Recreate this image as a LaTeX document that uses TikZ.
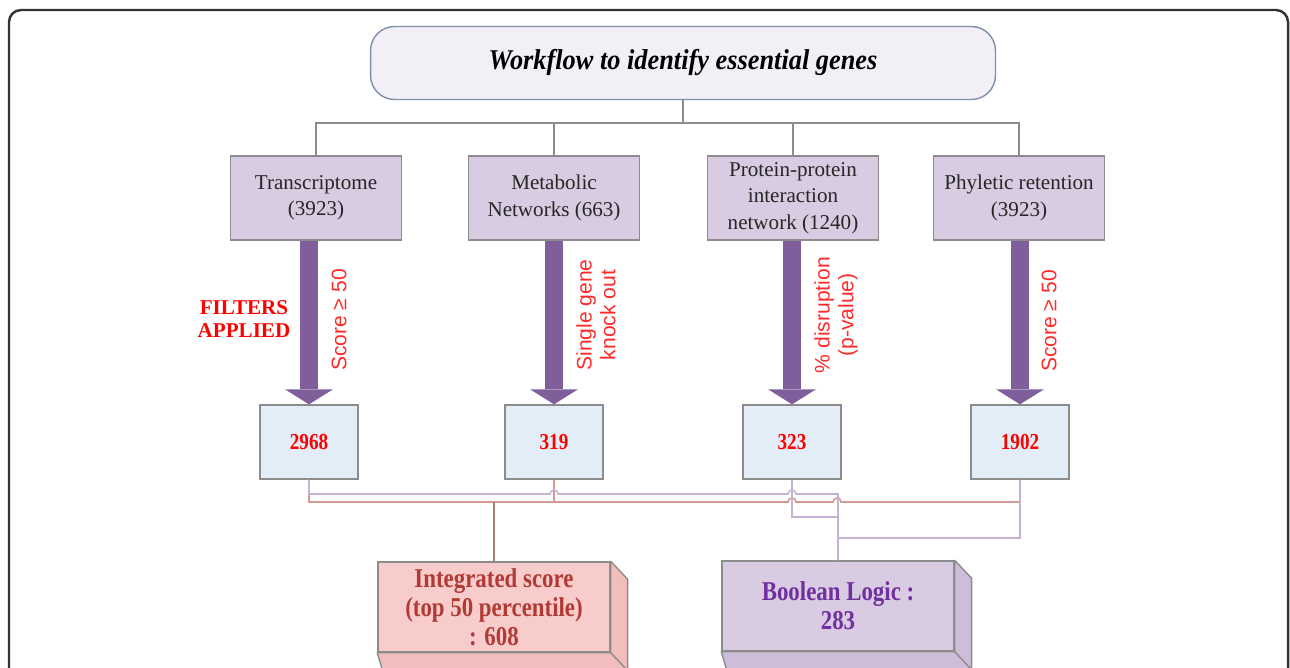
\documentclass[tikz,border=0pt]{standalone}
\usepackage{fontspec}
\setmainfont{Liberation Serif}
\setsansfont{Liberation Sans}
\newfontfamily\narrowserif[FakeStretch = 0.84]{Liberation Serif}
\newfontfamily\headserif[FakeStretch = 0.92]{Liberation Serif}
\usetikzlibrary{arrows.meta}
\usetikzlibrary{calc}

\definecolor{framegrey}{HTML}{333333}
\definecolor{boxgrey}{HTML}{8C8C8C}
\definecolor{titlefill}{HTML}{F3EFF6}
\definecolor{titleedge}{HTML}{7F8FA9}
\definecolor{lilac}{HTML}{D9CBE2}
\definecolor{lilacdark}{HTML}{CDBDD8}
\definecolor{paleblue}{HTML}{E3EDF7}
\definecolor{arrowpurple}{HTML}{7E5E9B}
\definecolor{filterred}{HTML}{FF2A2A}
\definecolor{pinkfill}{HTML}{F9CCCC}
\definecolor{pinkdark}{HTML}{F1BDBD}
\definecolor{scorered}{HTML}{B23A36}
\definecolor{boolpurple}{HTML}{7030A0}
\definecolor{pinkwire}{HTML}{D29A92}
\definecolor{lilacwire}{HTML}{C6B3D3}

\tikzset{
  source/.style = {draw = boxgrey, fill = lilac, line width = 0.8pt,
    minimum width = 3.42 cm, minimum height = 1.68 cm, align = center,
    text = black!85, font = \fontsize{12}{15}\selectfont},
  result/.style = {draw = boxgrey, fill = paleblue, line width = 0.8pt,
    minimum width = 1.96 cm, minimum height = 1.48 cm,
    text = red, font = \narrowserif\bfseries\fontsize{13}{15}\selectfont},
  filter/.style = {text = filterred, rotate = 90, align = center,
    font = \sffamily\fontsize{12}{13.6}\selectfont},
  bigarrow/.style = {arrowpurple, line width = 0.36 cm,
    -{Triangle[width=0.96cm, length=0.3cm, line width=0pt]}},
  slab/.style = {draw = boxgrey, line width = 0.8pt, align = center,
    minimum width = 4.64 cm, minimum height = 1.8 cm,
    font = \narrowserif\bfseries\fontsize{15.5}{16.5}\selectfont},
  tree/.style = {draw = boxgrey, line width = 0.6pt},
}

% side and bottom faces of a slab node
\newcommand\slabfaces[2]{%
  \filldraw[draw = boxgrey, fill = #2, line width = 0.8pt, line join = round]
    (#1.north east) -- ++(17, 18) -- ++(0, 120) -- (#1.south east) -- cycle;
  \filldraw[draw = boxgrey, fill = #2, line width = 0.8pt, line join = round]
    (#1.south west) -- (#1.south east) -- ++(17, 18) -- ++(0, 40)
    -- ($(#1.south west) + (17, 58)$) -- cycle;
}

\begin{document}
\begin{tikzpicture} [x = 0.02 cm, y = -0.02 cm]
    \useasboundingbox (0, 0) rectangle (1290, 667);
    \clip (0, 0) rectangle (1290, 667);

    % frame
    \draw[framegrey, line width = 1.4pt, rounded corners = 0.24 cm]
      (9, 720) -- (9, 10) -- (1288, 10) -- (1288, 720);

    % title
    \node[draw = titleedge, fill = titlefill, line width = 0.8pt,
      rounded corners = 0.48 cm, minimum width = 12.5 cm,
      minimum height = 1.46 cm,
      font = \headserif\bfseries\itshape\fontsize{16.3}{18}\selectfont]
      (wf) at (683, 63) {Workflow to identify essential genes};

    % data sources
    \node[source] (tr) at (316, 198) {Transcriptome\\(3923)};
    \node[source] (mn) at (554, 198) {Metabolic\\Networks (663)};
    \node[source] (pp) at (793, 198)
      {Protein-protein\\interaction\\network (1240)};
    \node[source] (ph) at (1019, 198) {Phyletic retention\\(3923)};

    \foreach \n in {tr, mn, pp, ph}
      \draw[tree] (wf.south) -- (wf.south |- 0, 123) -| (\n.north);

    % filtered gene counts
    \node[result] (tr') at (309, 442) {2968};
    \node[result] (mn') at (554, 442) {319};
    \node[result] (pp') at (792, 442) {323};
    \node[result] (ph') at (1020, 442) {1902};

    \foreach \n in {tr, mn, pp, ph}
      \draw[bigarrow] (\n'.north |- \n.south) -- (\n'.north);

    \node[text = red, align = center,
      font = \bfseries\fontsize{12}{13.6}\selectfont]
      (fa) at (244, 319) {FILTERS\\APPLIED};
    \node[filter] (f1) at (339, 320) {Score ≥ 50};
    \node[filter] (f2) at (596, 315) {Single gene\\knock out};
    \node[filter] (f3) at (836, 315) {\% disruption\\(p-value)};
    \node[filter] (f4) at (1049, 321) {Score ≥ 50};

    % combined scores
    \node[slab, fill = pinkfill, text = scorered] (is) at (494, 607)
      {Integrated score\\(top 50 percentile)\\: 608};
    \slabfaces{is}{pinkdark}
    \node[slab, fill = lilac, text = boolpurple] (bl) at (838, 606)
      {Boolean Logic :\\283};
    \slabfaces{bl}{lilacdark}

    % wiring to integrated score
    \draw[pinkwire, line width = 0.9pt]
      (tr'.south) |- (788, 502) arc (180:0:0.08 cm)
      -- (833, 502) arc (180:0:0.08 cm) -| (ph'.south);
    \draw[pinkwire, line width = 0.9pt] (mn'.south) -- (mn'.south |- 0, 502);
    \draw[pinkwire!80!black, line width = 0.9pt]
      (is.north) -- (is.north |- 0, 502);

    % wiring to boolean logic
    \draw[lilacwire, line width = 0.9pt]
      (tr'.south) |- (550, 494) arc (180:0:0.08 cm)
      -- (788, 494) arc (180:0:0.08 cm) -| (bl.north);
    \draw[lilacwire, line width = 0.9pt] (pp'.south) |- (bl.north |- 0, 517);
    \draw[lilacwire, line width = 0.9pt] (ph'.south) |- (bl.north |- 0, 538);
  \end{tikzpicture}
\end{document}
